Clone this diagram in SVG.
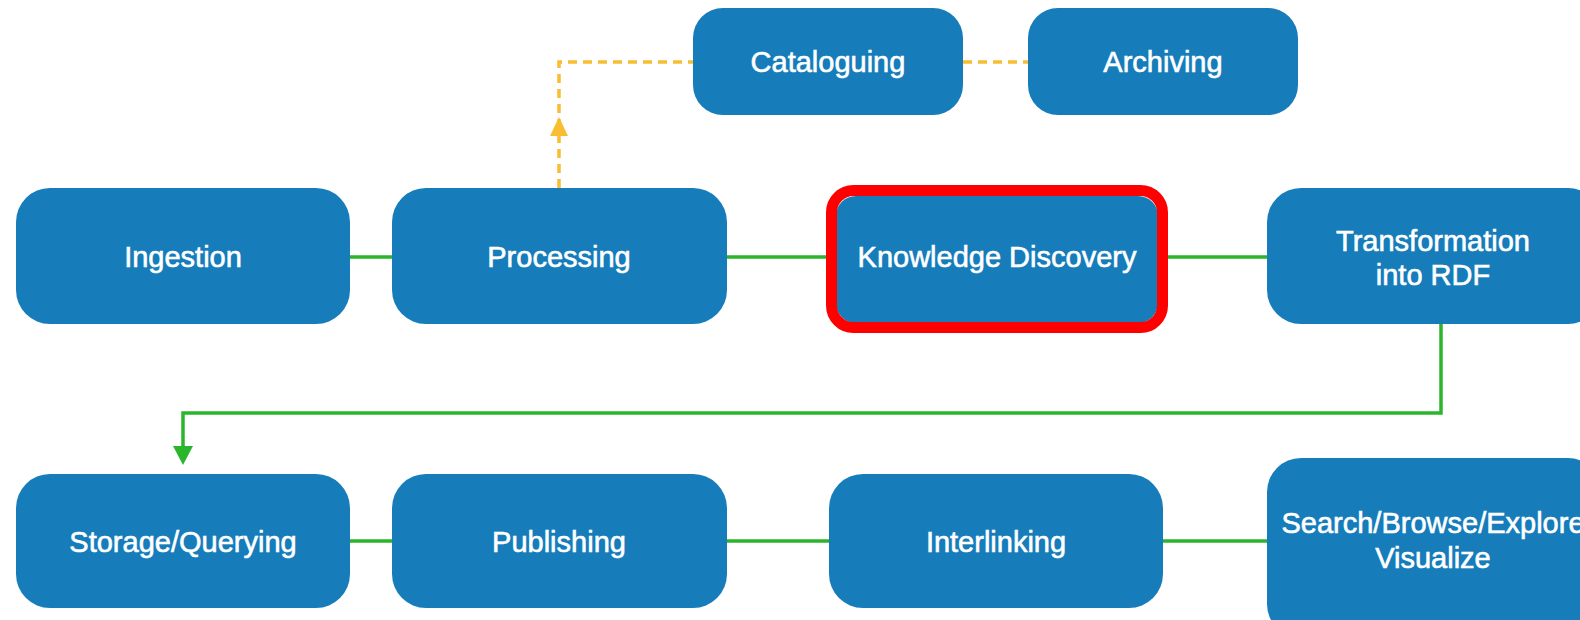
<svg xmlns="http://www.w3.org/2000/svg" width="1580" height="620" viewBox="0 0 1580 620">
  <style>
    .box { fill: #167cba; }
    .lbl { font-family: "Liberation Sans", Arial, sans-serif; font-size: 29px; fill: #ffffff; stroke: #ffffff; stroke-width: 0.6px; text-anchor: middle; }
    .flow { fill: none; stroke: #2bb52b; stroke-width: 3.5; }
    .side { fill: none; stroke: #f8bd30; stroke-width: 3.5; stroke-dasharray: 9 6; }
    .hl { fill: none; stroke: #ff0000; stroke-width: 11; }
  </style>

  <!-- connectors -->
  <g id="connectors">
    <!-- main row -->
    <line class="flow" x1="350" y1="257" x2="392" y2="257"/>
    <line class="flow" x1="727" y1="257" x2="826" y2="257"/>
    <line class="flow" x1="1168" y1="257" x2="1267" y2="257"/>
    <!-- wrap-around to second row -->
    <polyline class="flow" points="1441,324 1441,413 183,413 183,448"/>
    <polygon points="173,446 193,446 183,465" fill="#2bb52b"/>
    <!-- second row -->
    <line class="flow" x1="350" y1="541" x2="392" y2="541"/>
    <line class="flow" x1="727" y1="541" x2="829" y2="541"/>
    <line class="flow" x1="1163" y1="541" x2="1267" y2="541"/>
    <!-- side branch to cataloguing / archiving -->
    <path class="side" d="M559,188 V62 H693"/>
    <polygon points="559,117 550,136 568,136" fill="#f8bd30"/>
    <line class="side" x1="963" y1="62" x2="1028" y2="62"/>
  </g>

  <g id="cataloguing">
    <rect class="box" x="693" y="8" width="270" height="107" rx="30"/>
    <text class="lbl" x="828" y="72">Cataloguing</text>
  </g>
  <g id="archiving">
    <rect class="box" x="1028" y="8" width="270" height="107" rx="30"/>
    <text class="lbl" x="1163" y="72">Archiving</text>
  </g>

  <g id="ingestion">
    <rect class="box" x="16" y="188" width="334" height="136" rx="34"/>
    <text class="lbl" x="183" y="267">Ingestion</text>
  </g>
  <g id="processing">
    <rect class="box" x="392" y="188" width="335" height="136" rx="34"/>
    <text class="lbl" x="559" y="267">Processing</text>
  </g>
  <g id="knowledge-discovery">
    <rect class="box" x="836" y="196" width="322" height="127" rx="20"/>
    <rect class="hl" x="831.5" y="190.5" width="331" height="137" rx="22"/>
    <text class="lbl" x="997" y="267">Knowledge Discovery</text>
  </g>
  <g id="transformation">
    <rect class="box" x="1267" y="188" width="335" height="136" rx="34"/>
    <text class="lbl" x="1433" y="251">Transformation</text>
    <text class="lbl" x="1433" y="285">into RDF</text>
  </g>

  <g id="storage">
    <rect class="box" x="16" y="474" width="334" height="134" rx="34"/>
    <text class="lbl" x="183" y="552">Storage/Querying</text>
  </g>
  <g id="publishing">
    <rect class="box" x="392" y="474" width="335" height="134" rx="34"/>
    <text class="lbl" x="559" y="552">Publishing</text>
  </g>
  <g id="interlinking">
    <rect class="box" x="829" y="474" width="334" height="134" rx="34"/>
    <text class="lbl" x="996" y="552">Interlinking</text>
  </g>
  <g id="search">
    <rect class="box" x="1267" y="458" width="335" height="180" rx="34"/>
    <text class="lbl" x="1433" y="533">Search/Browse/Explore</text>
    <text class="lbl" x="1433" y="568">Visualize</text>
  </g>
</svg>
